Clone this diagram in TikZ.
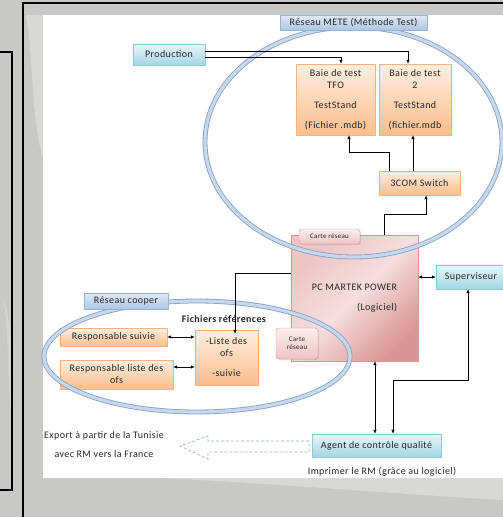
\documentclass[tikz,border=0pt]{standalone}
\usepackage{fontspec}
\setmainfont{Carlito}[LetterSpace=4]
\usetikzlibrary{positioning, arrows.meta, shadows}

\definecolor{bggray}{RGB}{200,200,196}
\definecolor{orangefill}{RGB}{250,190,140}
\definecolor{orangetop}{RGB}{254,238,224}
\definecolor{orangeline}{RGB}{247,178,125}
\definecolor{bluefill}{RGB}{165,213,228}
\definecolor{bluetop}{RGB}{232,246,250}
\definecolor{blueline}{RGB}{140,200,218}
\definecolor{netfill}{RGB}{175,198,228}
\definecolor{nettop}{RGB}{225,233,245}
\definecolor{netline}{RGB}{149,179,215}
\definecolor{pcdark}{RGB}{217,150,148}
\definecolor{pclight}{RGB}{245,222,222}
\definecolor{cardfill}{RGB}{238,196,196}
\definecolor{cardtop}{RGB}{252,238,238}
\definecolor{ringline}{RGB}{130,160,200}
\definecolor{ringfill}{RGB}{200,215,235}

\begin{document}
\begin{tikzpicture}[
    x=1pt, y=-1pt,
    font=\fontsize{10}{12}\selectfont,
    text=black!85,
    box/.style={
        draw,
        rectangle,
        inner sep=1pt,
        align=center,
        drop shadow={opacity=0.25, shadow xshift=1pt, shadow yshift=-1pt}
    },
    orangebox/.style={box, draw=orangeline, top color=orangetop, bottom color=orangefill},
    bluebox/.style={box, draw=blueline, top color=bluetop, bottom color=bluefill},
    netlabel/.style={box, draw=netline, top color=nettop, bottom color=netfill},
    pcbox/.style={box, draw=pcdark, left color=cardfill, right color=pcdark, middle color=pclight, shading angle=45},
    cardbox/.style={box, rounded corners=3pt, draw=pcdark, top color=cardtop, bottom color=cardfill,
        font=\fontsize{7}{8}\selectfont},
    netring/.style={draw=ringline, double=ringfill, double distance=3.2pt, line width=0.8pt},
    arrow/.style={-{Latex[length=4pt,width=3.5pt]}, line width=0.6pt},
    twoway/.style={{Latex[length=4pt,width=3.5pt]}-{Latex[length=4pt,width=3.5pt]}, line width=0.6pt}
]
\useasboundingbox (0,0) rectangle (503,517);

% background and frame
\fill[bggray] (0,0) rectangle (503,517);
\fill[white, opacity=0.3] (26,15) .. controls (34,60) and (30,110) .. (43,160) -- (43,15) -- cycle;
\fill[white, opacity=0.2] (0,290) .. controls (12,320) and (4,380) .. (14,430) .. controls (8,380) and (18,330) .. (0,290) -- cycle;
\fill[white, opacity=0.3] (43,478) .. controls (150,472) and (300,488) .. (503,500) -- (503,478) -- cycle;
\draw[line width=2pt] (23,517) -- (23,3) -- (503,3);
\draw[line width=1.3pt] (-2,52) -- (12,52) -- (12,490) -- (-2,490);
\fill[white] (43,14) rectangle (503,478);
\draw[netline!70, line width=0.6pt] (43,14) -- (503,14);

% boxes
\node[bluebox, minimum width=72pt, minimum height=21pt] (prod) at (169,54.5) {Production};
\node[orangebox, minimum width=79pt, minimum height=71pt] (tfo) at (335.5,99.5)
    {Baie de test\\TFO\\[8pt]TestStand\\[8pt](Fichier .mdb)};
\node[orangebox, minimum width=72pt, minimum height=71pt] (baie2) at (415,99.5)
    {Baie de test\\2\\[8pt]TestStand\\[8pt](fichier.mdb};
\node[orangebox, minimum width=81pt, minimum height=24pt] (switch) at (419.5,183) {3COM Switch};
\node[pcbox, minimum width=127pt, minimum height=126pt, align=right] (pc) at (354.5,298)
    {PC MARTEK POWER\\[8pt](Logiciel)};
\node[cardbox, minimum width=61pt, minimum height=15pt] (carte1) at (329.5,236.5) {Carte réseau};
\node[cardbox, minimum width=42pt, minimum height=31pt] (carte2) at (297,343.5) {Carte\\réseau};
\node[bluebox, minimum width=70pt, minimum height=24pt] (superv) at (471,277) {Superviseur};
\node[orangebox, minimum width=107pt, minimum height=18pt] (respS) at (113.5,337) {Responsable suivie};
\node[orangebox, minimum width=113pt, minimum height=29pt] (respL) at (116.5,374.5) {Responsable liste des\\ofs};
\node[orangebox, minimum width=63pt, minimum height=55pt] (liste) at (226.5,357.5) {-Liste des\\ofs\\[8pt]-suivie};
\node[bluebox, minimum width=129pt, minimum height=23pt] (agent) at (376.5,445.5) {Agent de contrôle qualité};

% networks
\draw[netring] (353.5,142) ellipse [x radius=148.5, y radius=115];
\draw[netring] (197,356.5) ellipse [x radius=153, y radius=55.5];
\node[netlabel, minimum width=147pt, minimum height=15pt] (mete) at (353.5,22.5) {Réseau METE (Méthode Test)};
\node[netlabel, minimum width=84pt, minimum height=16pt] (cooper) at (126,301) {Réseau cooper};
\node[font=\bfseries\fontsize{10}{12}\selectfont] (fichiers) at (224,319) {Fichiers références};

% free texts
\node[align=center, font=\fontsize{10}{12}\selectfont] (export) at (104,444.5)
    {Export à partir de la Tunisie\\[7pt]avec RM vers la France};
\node[font=\fontsize{10}{12}\selectfont] (imprimer) at (382,472) {Imprimer le RM (grâce au logiciel)};

% links
\draw[arrow] ([yshift=3.5pt]prod.east) -| ([xshift=-7pt]baie2.north);
\draw[arrow] ([yshift=-2.5pt]prod.east) -| ([xshift=5.5pt]tfo.north);
\draw[arrow] ([xshift=-30.5pt]switch.north) -- ++(0,-19) -| ([xshift=13.5pt]tfo.south);
\draw[arrow] ([xshift=-6.5pt]switch.north) -- ([xshift=-2pt]baie2.south);
\draw[arrow] ([xshift=29.5pt]pc.north) -- ++(0,-21) -| ([xshift=6.5pt]switch.south);
\draw[twoway] (superv.west -| pc.east) -- (superv.west);
\draw[arrow] ([yshift=25pt]pc.west) -| ([xshift=8.5pt,yshift=-4pt]liste.north);
\draw[twoway] (respS.east) -- (respS.east -| liste.west);
\draw[twoway] ([yshift=7.5pt]respL.east) -- ([yshift=7.5pt]respL.east -| liste.west);
\draw[twoway] ([xshift=20.5pt]pc.south) -- ([xshift=-1.5pt]agent.north);
\draw[twoway] ([xshift=16.5pt]agent.north) -- ++(0,-54) -| ([xshift=-3pt]superv.south);

% export arrow
\draw[netline, line width=0.7pt, dash pattern=on 3pt off 2pt]
    (309,441) -- (208,441) -- (208,436) -- (180,446) -- (208,459) -- (208,452) -- (309,452) -- cycle;

\end{tikzpicture}
\end{document}
